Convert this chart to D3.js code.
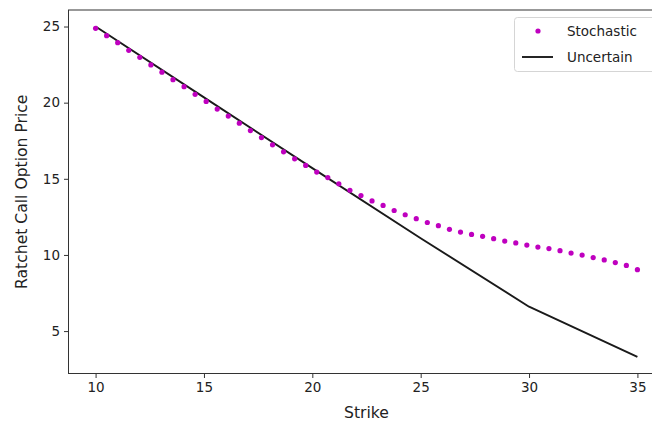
<!DOCTYPE html>
<html>
<head>
<meta charset="utf-8">
<script src="https://cdn.jsdelivr.net/npm/d3@7"></script>
<style>
  html, body { margin: 0; padding: 0; background: #fff; }
  svg { display: block; font-family: "DejaVu Sans", sans-serif; }
</style>
</head>
<body>
<svg id="chart" width="652" height="421"></svg>
<script>
// ---- data ----
const stochStrikes = [10.000, 10.510, 11.020, 11.531, 12.041, 12.551, 13.061, 13.571, 14.082, 14.592,
  15.102, 15.612, 16.122, 16.633, 17.143, 17.653, 18.163, 18.673, 19.184, 19.694,
  20.204, 20.714, 21.224, 21.735, 22.245, 22.755, 23.265, 23.776, 24.286, 24.796,
  25.306, 25.816, 26.327, 26.837, 27.347, 27.857, 28.367, 28.878, 29.388, 29.898,
  30.408, 30.918, 31.429, 31.939, 32.449, 32.959, 33.469, 33.980, 34.490, 35.000];
const stochPrices = [24.88, 24.40, 23.94, 23.44, 22.98, 22.48, 22.00, 21.51, 21.05, 20.55,
  20.08, 19.58, 19.12, 18.65, 18.17, 17.71, 17.23, 16.77, 16.31, 15.88,
  15.44, 15.08, 14.67, 14.25, 13.90, 13.55, 13.25, 12.92, 12.64, 12.38,
  12.13, 11.92, 11.68, 11.50, 11.35, 11.22, 11.07, 10.91, 10.79, 10.65,
  10.52, 10.42, 10.28, 10.12, 9.99, 9.83, 9.67, 9.50, 9.31, 9.03];
const uncertStrikes = [10, 15, 20, 25, 30, 35];
const uncertPrices = [25.0, 20.35, 15.7, 11.1, 6.6, 3.3];
const xTicks = [10, 15, 20, 25, 30, 35];
const yTicks = [5, 10, 15, 20, 25];
const seriesNames = ["Stochastic", "Uncertain"];

// ---- layout ----
const svg = d3.select("#chart");
const plotLeft = 68.5, plotTop = 10, plotBottom = 373.5;
const x = d3.scaleLinear().domain([8.75, 36.25]).range([plotLeft, 664.5]);
const y = d3.scaleLinear().domain([2.215, 26.085]).range([plotBottom, plotTop]);
const fs = 13.5, fsLabel = 15.6;

// plot
const plot = svg.append("g");
plot.append("path")
  .datum(uncertStrikes.map((s, i) => [s, uncertPrices[i]]))
  .attr("fill", "none").attr("stroke", "#1a1a1a").attr("stroke-width", 1.9)
  .attr("stroke-linejoin", "round")
  .attr("d", d3.line().x(d => x(d[0])).y(d => y(d[1])));
plot.selectAll("circle.pt")
  .data(stochStrikes.map((s, i) => [s, stochPrices[i]]))
  .join("circle").attr("class", "pt")
  .attr("cx", d => x(d[0])).attr("cy", d => y(d[1]))
  .attr("r", 2.6).attr("fill", "#bf00bf");

// axes
const xAxis = d3.axisBottom(x).tickValues(xTicks).tickSize(4.5).tickPadding(4).tickFormat(d3.format("d"));
const yAxis = d3.axisLeft(y).tickValues(yTicks).tickSize(4.5).tickPadding(4).tickFormat(d3.format("d"));
const gx = svg.append("g").attr("transform", `translate(0,${plotBottom})`).call(xAxis);
const gy = svg.append("g").attr("transform", `translate(${plotLeft},0)`).call(yAxis);
[gx, gy].forEach(g => {
  g.select(".domain").remove();
  g.selectAll(".tick line").attr("stroke", "#333").attr("stroke-width", 1);
  g.selectAll(".tick text").attr("fill", "#222").style("font-size", fs + "px")
    .style("font-family", "DejaVu Sans, sans-serif");
});

// spines (right side is cut off by the image edge)
svg.append("rect").attr("x", plotLeft).attr("y", plotTop)
  .attr("width", x.range()[1] - plotLeft).attr("height", plotBottom - plotTop)
  .attr("fill", "none").attr("stroke", "#333").attr("stroke-width", 1);

// labels
svg.append("text").attr("x", x(22.5)).attr("y", 418)
  .attr("text-anchor", "middle").style("font-size", fsLabel + "px").attr("fill", "#222").text("Strike");
svg.append("text").attr("transform", `translate(27,${(plotTop + plotBottom) / 2}) rotate(-90)`)
  .attr("text-anchor", "middle").style("font-size", fsLabel + "px").attr("fill", "#222")
  .text("Ratchet Call Option Price");

// legend
const lg = svg.append("g");
lg.append("rect").attr("x", 514.5).attr("y", 17.5).attr("width", 150).attr("height", 54)
  .attr("rx", 3).attr("fill", "#fff").attr("fill-opacity", 0.8)
  .attr("stroke", "#d5d5d5").attr("stroke-width", 1);
lg.append("circle").attr("cx", 538).attr("cy", 31).attr("r", 2.6).attr("fill", "#bf00bf");
lg.append("line").attr("x1", 522).attr("x2", 553).attr("y1", 57).attr("y2", 57)
  .attr("stroke", "#1a1a1a").attr("stroke-width", 1.9);
lg.selectAll("text.lt").data(seriesNames).join("text").attr("class", "lt")
  .attr("x", 567).attr("y", (d, i) => 36 + i * 26)
  .style("font-size", "13.5px").attr("fill", "#222").text(d => d);
</script>
</body>
</html>
